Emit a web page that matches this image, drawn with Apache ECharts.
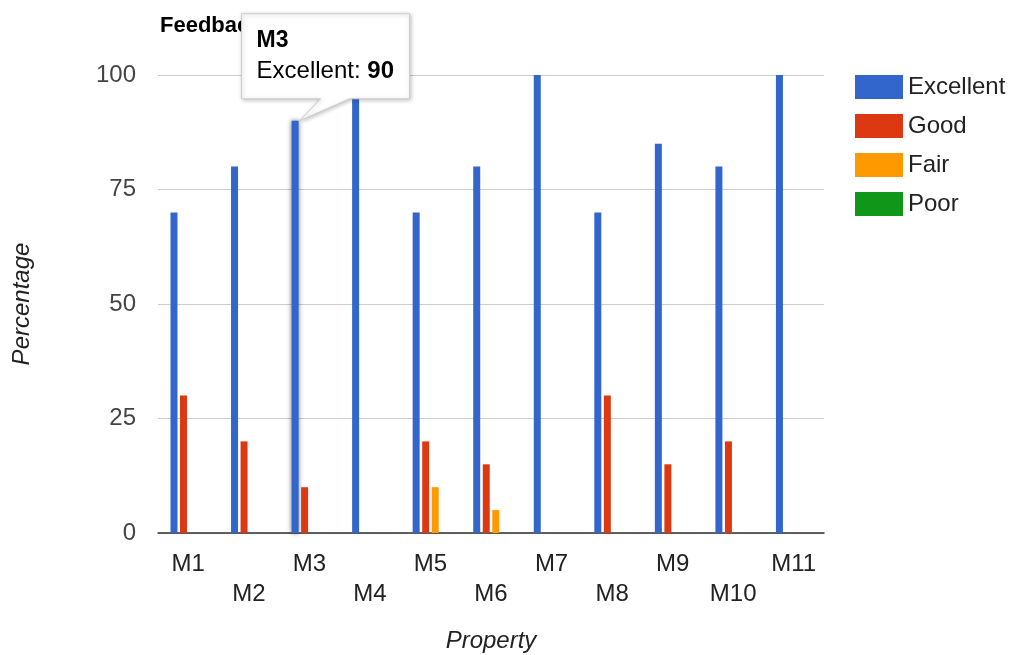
<!DOCTYPE html>
<html>
<head>
<meta charset="utf-8">
<script src="https://cdn.jsdelivr.net/npm/echarts@6/dist/echarts.min.js"></script>
<style>
  html, body { margin: 0; padding: 0; background: #fff; }
  #chart { width: 1015px; height: 655px; }
</style>
</head>
<body>
<div id="chart"></div>
<script>
// Feedback ratings per property (percent of responses)
const categories = ['M1', 'M2', 'M3', 'M4', 'M5', 'M6', 'M7', 'M8', 'M9', 'M10', 'M11'];
const excellent = [70, 80, 90, 100, 70, 80, 100, 70, 85, 80, 100];
const good      = [30, 20, 10, 0, 20, 15, 0, 30, 15, 20, 0];
const fair      = [0, 0, 0, 0, 10, 5, 0, 0, 0, 0, 0];
const poor      = [0, 0, 0, 0, 0, 0, 0, 0, 0, 0, 0];
const yTicks    = [0, 25, 50, 75, 100];

const seriesNames = ['Excellent', 'Good', 'Fair', 'Poor'];
const colors = ['#3366cc', '#dc3912', '#ff9900', '#109618'];

// The focused bar (shown with a callout)
const focusIndex = 2;

const FONT = 'Arial, "Liberation Sans", sans-serif';
const chart = echarts.init(document.getElementById('chart'), null, { renderer: 'canvas' });

function makeSeries(name, values, color, idx) {
  return {
    name: name,
    type: 'bar',
    barWidth: 7,
    barGap: '36%',
    itemStyle: { color: color },
    data: values.map((v, i) => {
      if (idx === 0 && i === focusIndex) {
        return { value: v, itemStyle: { shadowBlur: 5, shadowColor: 'rgba(0,0,0,0.55)' } };
      }
      return v;
    }),
    silent: true,
    animation: false
  };
}

chart.setOption({
  animation: false,
  color: colors,
  title: {
    text: 'Feedback Analysis',
    left: 155,
    top: 10,
    textStyle: { fontFamily: FONT, fontSize: 22, fontWeight: 'bold', color: '#000' }
  },
  legend: {
    orient: 'vertical',
    left: 850,
    top: 70,
    itemWidth: 48,
    itemHeight: 24,
    itemGap: 15,
    icon: 'rect',
    data: seriesNames,
    textStyle: { fontFamily: FONT, fontSize: 24, color: '#222', padding: [0, 0, 0, 0] }
  },
  grid: { left: 158, right: 191, top: 75, bottom: 122, containLabel: false, outerBoundsMode: 'none' },
  xAxis: {
    type: 'category',
    data: categories,
    name: 'Property',
    nameLocation: 'middle',
    nameGap: 96,
    nameTextStyle: { fontFamily: FONT, fontSize: 24, fontStyle: 'italic', color: '#222' },
    axisLine: { lineStyle: { color: '#333', width: 1.5 } },
    axisTick: { show: false },
    axisLabel: {
      interval: 0,
      margin: 16,
      fontFamily: FONT,
      fontSize: 24,
      color: '#222',
      lineHeight: 30,
      formatter: (v, i) => (i % 2 === 1 ? '\n' + v : v)
    }
  },
  yAxis: {
    type: 'value',
    min: yTicks[0],
    max: yTicks[yTicks.length - 1],
    interval: yTicks[1] - yTicks[0],
    name: 'Percentage',
    nameLocation: 'middle',
    nameGap: 124,
    nameRotate: 90,
    nameTextStyle: { fontFamily: FONT, fontSize: 24, fontStyle: 'italic', color: '#222' },
    axisLine: { show: false },
    axisTick: { show: false },
    splitLine: { lineStyle: { color: '#cccccc', width: 1 } },
    axisLabel: { margin: 22, fontFamily: FONT, fontSize: 24, color: '#444' }
  },
  series: [
    makeSeries(seriesNames[0], excellent, colors[0], 0),
    makeSeries(seriesNames[1], good, colors[1], 1),
    makeSeries(seriesNames[2], fair, colors[2], 2),
    makeSeries(seriesNames[3], poor, colors[3], 3)
  ]
});

// Callout anchored to the top-right corner of the focused bar
const layout = chart.getModel().getSeriesByIndex(0).getData().getItemLayout(focusIndex);
const apexX = layout.x + layout.width + 1;
const apexY = layout.y + layout.height; // bar top (height is negative for upward bars)
const boxL = apexX - 58, boxR = apexX + 110;
const boxB = apexY - 22, boxT = boxB - 85;
const tailL = apexX + 21, tailR = apexX + 50;

chart.setOption({
  graphic: [
    {
      type: 'polygon',
      z: 100,
      shape: {
        points: [
          [boxL, boxT], [boxR, boxT], [boxR, boxB], [tailR, boxB],
          [apexX, apexY], [tailL, boxB], [boxL, boxB]
        ]
      },
      style: {
        fill: '#ffffff',
        stroke: '#cccccc',
        lineWidth: 1,
        shadowBlur: 4,
        shadowOffsetX: 1,
        shadowOffsetY: 1,
        shadowColor: 'rgba(0,0,0,0.25)'
      }
    },
    {
      type: 'text',
      z: 101,
      left: boxL + 15,
      top: boxT + 15,
      style: {
        text: categories[focusIndex],
        fontFamily: FONT,
        fontSize: 23,
        fontWeight: 'bold',
        fill: '#000'
      }
    },
    {
      type: 'text',
      z: 101,
      left: boxL + 15,
      top: boxT + 46,
      style: {
        text: '{n|' + seriesNames[0] + ': }{v|' + excellent[focusIndex] + '}',
        rich: {
          n: { fontFamily: FONT, fontSize: 24, color: '#222' },
          v: { fontFamily: FONT, fontSize: 24, fontWeight: 'bold', color: '#000' }
        }
      }
    }
  ]
});
</script>
</body>
</html>
